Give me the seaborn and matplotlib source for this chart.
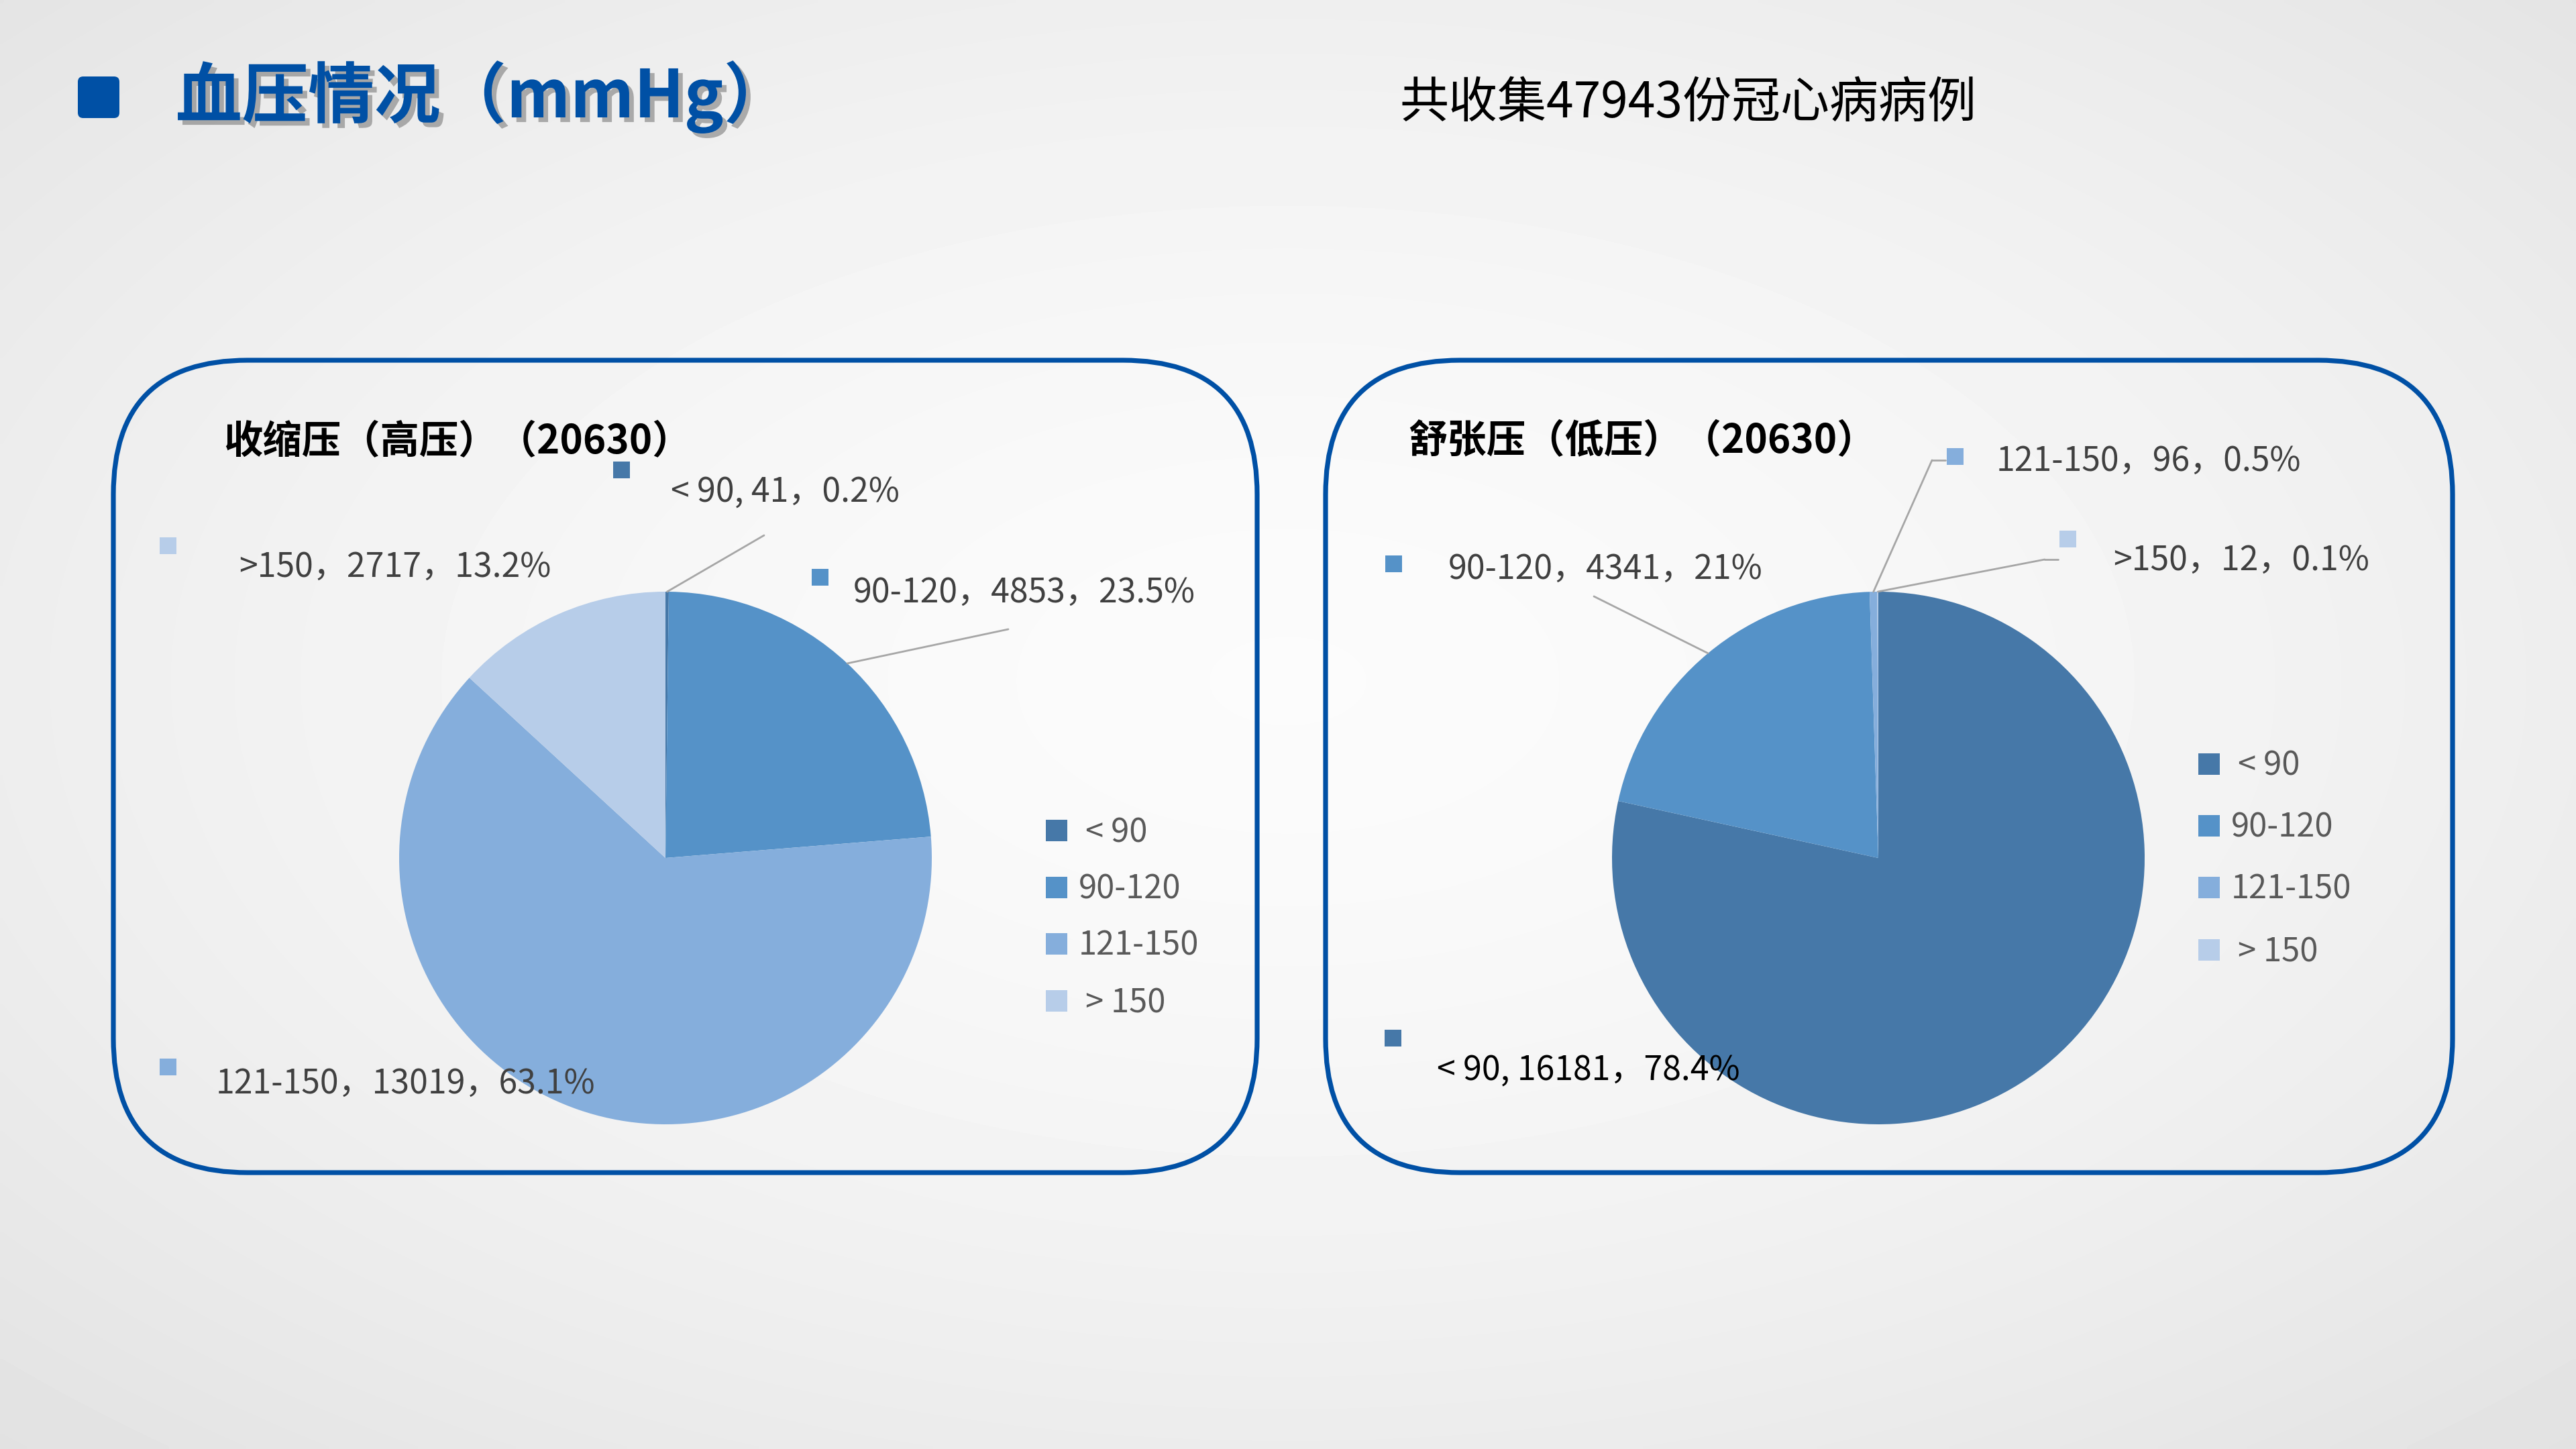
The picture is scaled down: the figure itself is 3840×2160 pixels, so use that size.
import numpy as np
import pandas as pd
import matplotlib
matplotlib.use("Agg")
import matplotlib.pyplot as plt
import matplotlib.patheffects as pe
from matplotlib.patches import FancyBboxPatch, Rectangle, ConnectionPatch
import seaborn as sns

# ---------------- data ----------------
categories = ["<90", "90-120", "121-150", ">150"]
legend_labels = ["< 90", "90-120", "121-150", "> 150"]
systolic_counts = [41, 4853, 13019, 2717]
systolic_pcts = ["0.2%", "23.5%", "63.1%", "13.2%"]
diastolic_counts = [16181, 4341, 96, 12]
diastolic_pcts = ["78.4%", "21%", "0.5%", "0.1%"]
systolic_total = 20630
diastolic_total = 20630
case_total = 47943
palette_hex = ["#4678A8", "#5592C8", "#85AEDC", "#B7CDE9"]

main_title = "血压情况（mmHg）"
subtitle = f"共收集{case_total}份冠心病病例"
sys_title = f"收缩压（高压）（{systolic_total}）"
dia_title = f"舒张压（低压）（{diastolic_total}）"


def make_label(cat, count, pct):
    if cat == "<90":
        return f"< 90, {count}，{pct}"
    return f"{cat}，{count}，{pct}"


sys_df = pd.DataFrame({"cat": categories, "count": systolic_counts, "pct": systolic_pcts})
dia_df = pd.DataFrame({"cat": categories, "count": diastolic_counts, "pct": diastolic_pcts})

# ---------------- style ----------------
sns.set_theme(style="white")
plt.rcParams["font.family"] = ["Noto Sans CJK SC", "DejaVu Sans"]
palette = sns.color_palette(palette_hex)

W, H = 3840, 2160
DPI = 200
fig = plt.figure(figsize=(W / DPI, H / DPI), dpi=DPI)

# background axes (pixel coordinates, y downwards)
bg = fig.add_axes([0, 0, 1, 1], zorder=0)
bg.set_xlim(0, W)
bg.set_ylim(H, 0)
bg.axis("off")
yy, xx = np.mgrid[0:1:270j, 0:1:480j]
d = np.sqrt(((xx - 0.5) / 0.5) ** 2 + ((yy - 0.47) / 0.5) ** 2) / np.sqrt(2)
val = np.clip(0.985 - 0.095 * d ** 1.6, 0, 1)
bg.imshow(val, cmap="gray", vmin=0, vmax=1, extent=(0, W, H, 0), aspect="auto",
          interpolation="bilinear", zorder=0)

# foreground overlay axes
fg = fig.add_axes([0, 0, 1, 1], zorder=3)
fg.set_xlim(0, W)
fg.set_ylim(H, 0)
fg.axis("off")
fg.patch.set_alpha(0)

BLUE = "#0050A5"

# header
fg.add_patch(FancyBboxPatch((116, 114), 62, 62, boxstyle="round,pad=0,rounding_size=8",
                            facecolor=BLUE, edgecolor="none"))
fg.text(262, 175, main_title, fontsize=35.5, fontweight="bold", color=BLUE, va="baseline",
        ha="left",
        path_effects=[pe.withSimplePatchShadow(offset=(2.5, -2.5), shadow_rgbFace="#555555", alpha=0.45)])
fg.text(2086, 175, subtitle, fontsize=26.3, color="black", va="baseline", ha="left")

# rounded boxes
for (x0, x1) in [(169, 1874), (1976, 3656)]:
    fg.add_patch(FancyBboxPatch((x0, 537), x1 - x0, 1748 - 537,
                                boxstyle="round,pad=0,rounding_size=200",
                                facecolor="none", edgecolor=BLUE, linewidth=2.6))

fg.text(333, 675, sys_title, fontsize=21, fontweight="bold", color="black", va="baseline")
fg.text(2099, 674, dia_title, fontsize=21, fontweight="bold", color="black", va="baseline")

# label layout: marker center, text anchor (x, baseline), leader points, text colour
sys_layout = {
    "<90": dict(m=(926, 700), t=(1000, 748), lead=[(1139, 798)], c="#404040"),
    "90-120": dict(m=(1222, 860), t=(1272, 898), lead=[(1503, 938)], c="#404040"),
    "121-150": dict(m=(250, 1590), t=(322, 1630), lead=[], c="#404040"),
    ">150": dict(m=(250, 813), t=(356, 860), lead=[], c="#404040"),
}
dia_layout = {
    "<90": dict(m=(2076, 1547), t=(2142, 1610), lead=[], c="black"),
    "90-120": dict(m=(2077, 840), t=(2159, 863), lead=[(2376, 889)], c="#404040"),
    "121-150": dict(m=(2914, 680), t=(2976, 702), lead=[(2880, 686), (2900, 686)], c="#404040"),
    ">150": dict(m=(3082, 803), t=(3150, 850), lead=[(3048, 834), (3068, 834)], c="#404040"),
}


def draw_pie(df, cx, cy, r, layout, legend_x, legend_ys, legend_text_x):
    ax = fig.add_axes([(cx - r) / W, 1 - (cy + r) / H, 2 * r / W, 2 * r / H], zorder=2)
    wedges, _ = ax.pie(df["count"], colors=palette, startangle=90, counterclock=False,
                       radius=1, wedgeprops=dict(linewidth=0))
    ax.set_xlim(-1, 1)
    ax.set_ylim(-1, 1)
    ax.set_aspect("equal")
    ax.axis("off")
    for i, row in df.iterrows():
        lay = layout[row["cat"]]
        mx, my = lay["m"]
        fg.add_patch(Rectangle((mx - 12.5, my - 12.5), 25, 25, facecolor=palette[i], edgecolor="none"))
        fg.text(lay["t"][0], lay["t"][1], make_label(row["cat"], row["count"], row["pct"]),
                fontsize=18.0, color=lay["c"], va="baseline", ha="left")
        if lay["lead"]:
            w = wedges[i]
            mid = np.deg2rad((w.theta1 + w.theta2) / 2)
            con = ConnectionPatch(xyA=(np.cos(mid), np.sin(mid)), coordsA=ax.transData,
                                  xyB=lay["lead"][0], coordsB=fg.transData,
                                  color="#A6A6A6", linewidth=1.0)
            fg.add_artist(con)
            if len(lay["lead"]) > 1:
                px, py = zip(*lay["lead"])
                fg.plot(px, py, color="#A6A6A6", linewidth=1.0)
    # legend
    for i, lab in enumerate(legend_labels):
        ly = legend_ys[i]
        fg.add_patch(Rectangle((legend_x - 16, ly - 16), 32, 32, facecolor=palette[i], edgecolor="none"))
        tx = legend_text_x + (10 if lab.startswith(("<", ">")) else 0)
        fg.text(tx, ly + 17, lab, fontsize=17.6, color="#595959", va="baseline", ha="left")
    return ax


draw_pie(sys_df, 992, 1279, 397, sys_layout, 1575, [1238, 1323, 1407, 1492], 1608)
draw_pie(dia_df, 2800, 1279, 397, dia_layout, 3293, [1139, 1231, 1323, 1416], 3326)

fig.savefig("out.png", dpi=DPI)
